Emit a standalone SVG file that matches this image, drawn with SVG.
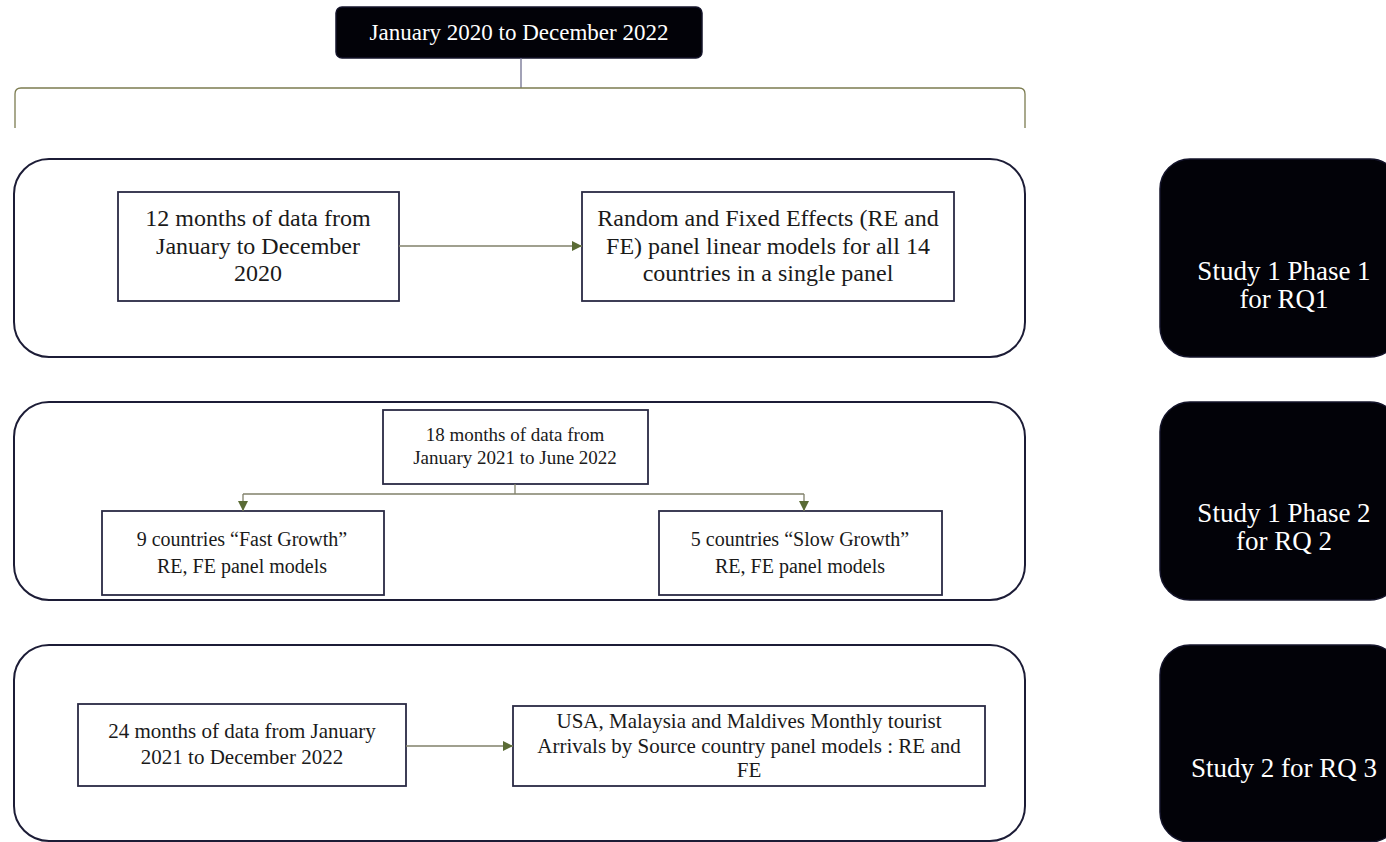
<svg xmlns="http://www.w3.org/2000/svg" width="1386" height="842" viewBox="0 0 1386 842">
<style>
.panel{fill:#fff;stroke:#1c1c36;stroke-width:2}
.box{fill:#fff;stroke:#2a2a44;stroke-width:1.8}
.dark{fill:#020208;stroke:#14142a;stroke-width:1.5}
.t{font-family:'Liberation Serif','Times New Roman',serif;fill:#1a1a1a;text-anchor:middle}
.w{font-family:'Liberation Serif','Times New Roman',serif;fill:#ffffff;text-anchor:middle}
.c{fill:none;stroke:#80806a;stroke-width:1.3}
</style>
<defs>
<marker id="ah" viewBox="0 0 10 10" refX="10" refY="5" markerWidth="10" markerHeight="10" markerUnits="userSpaceOnUse" orient="auto">
<path d="M0,0 L10,5 L0,10 z" fill="#5a6b35"/>
</marker>
</defs>
<rect width="1386" height="842" fill="#fff"/>

<g id="top">
<rect x="336" y="7" width="366" height="51" rx="6" class="dark"/>
<text x="519" y="40" class="w" font-size="23">January 2020 to December 2022</text>
</g>

<g id="panel1">
<rect x="14" y="159" width="1011" height="198" rx="35" class="panel"/>
</g>
<g id="panel2">
<rect x="14" y="402" width="1011" height="198" rx="35" class="panel"/>
</g>
<g id="panel3">
<rect x="14" y="645" width="1011" height="196" rx="35" class="panel"/>
</g>

<g id="boxA">
<rect x="118" y="192" width="281" height="109" class="box"/>
<text class="t" font-size="24"><tspan x="258" y="226">12 months of data from</tspan><tspan x="258" y="254">January to December</tspan><tspan x="258" y="281">2020</tspan></text>
</g>
<g id="boxB">
<rect x="582" y="192" width="372" height="109" class="box"/>
<text class="t" font-size="24"><tspan x="768" y="226">Random and Fixed Effects (RE and</tspan><tspan x="768" y="254">FE) panel linear models for all 14</tspan><tspan x="768" y="281">countries in a single panel</tspan></text>
</g>

<g id="boxC">
<rect x="383" y="410" width="265" height="74" class="box"/>
<text class="t" font-size="19"><tspan x="515" y="441">18 months of data from</tspan><tspan x="515" y="464">January 2021 to June 2022</tspan></text>
</g>
<g id="boxD">
<rect x="102" y="511" width="282" height="84" class="box"/>
<text class="t" font-size="20"><tspan x="242" y="546">9 countries “Fast Growth”</tspan><tspan x="242" y="573">RE, FE panel models</tspan></text>
</g>
<g id="boxE">
<rect x="659" y="511" width="283" height="84" class="box"/>
<text class="t" font-size="20"><tspan x="800" y="546">5 countries “Slow Growth”</tspan><tspan x="800" y="573">RE, FE panel models</tspan></text>
</g>

<g id="boxF">
<rect x="78" y="704" width="328" height="82" class="box"/>
<text class="t" font-size="21"><tspan x="242" y="738">24 months of data from January</tspan><tspan x="242" y="764">2021 to December 2022</tspan></text>
</g>
<g id="boxG">
<rect x="513" y="706" width="472" height="80" class="box"/>
<text class="t" font-size="21"><tspan x="749" y="728">USA, Malaysia and Maldives Monthly tourist</tspan><tspan x="749" y="753">Arrivals by Source country panel models : RE and</tspan><tspan x="749" y="777">FE</tspan></text>
</g>

<g id="study1">
<rect x="1160" y="159" width="240" height="198" rx="30" class="dark"/>
<text class="w" font-size="27"><tspan x="1284" y="280">Study 1 Phase 1</tspan><tspan x="1284" y="308">for RQ1</tspan></text>
</g>
<g id="study2">
<rect x="1160" y="402" width="240" height="198" rx="30" class="dark"/>
<text class="w" font-size="27"><tspan x="1284" y="522">Study 1 Phase 2</tspan><tspan x="1284" y="550">for RQ 2</tspan></text>
</g>
<g id="study3">
<rect x="1160" y="645" width="240" height="197" rx="30" class="dark"/>
<text class="w" font-size="27"><tspan x="1284" y="777">Study 2 for RQ 3</tspan></text>
</g>

<g id="connectors">
<path d="M521,58 V88" fill="none" stroke="#707090" stroke-width="1.3"/>
<path d="M15,128 V94 Q15,88 21,88 H1019 Q1025,88 1025,94 V128" fill="none" stroke="#7c7c50" stroke-width="1.3"/>
<path d="M399,246 H582" class="c" stroke="#6e6e50" marker-end="url(#ah)"/>
<path d="M515,484 V494" class="c"/>
<path d="M243,494 H804" class="c"/>
<path d="M243,494 V511" class="c" marker-end="url(#ah)"/>
<path d="M804,494 V511" class="c" marker-end="url(#ah)"/>
<path d="M406,746 H513" class="c" marker-end="url(#ah)"/>
</g>
</svg>
